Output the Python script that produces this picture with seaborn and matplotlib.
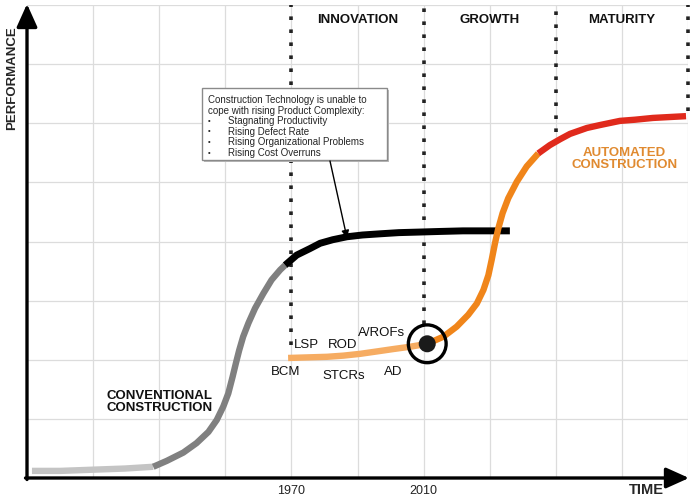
import matplotlib
matplotlib.use("Agg")
import matplotlib.pyplot as plt
import seaborn as sns
import pandas as pd
from matplotlib.patches import Rectangle

# ---------------- data ----------------
conv_early_year = [1891.5, 1900.0, 1909.7, 1919.6, 1928.2]
conv_early_perf = [0.12, 0.12, 0.14, 0.16, 0.19]

conv_rise_year = [1928.2, 1932.3, 1937.3, 1941.3, 1944.9, 1947.4, 1949.4, 1950.9,
                  1952.2, 1953.2, 1954.2, 1955.4, 1957.0, 1959.0, 1961.5, 1964.0,
                  1966.6, 1968.1]
conv_rise_perf = [0.19, 0.29, 0.43, 0.59, 0.78, 0.98, 1.21, 1.43,
                  1.71, 1.94, 2.16, 2.39, 2.62, 2.87, 3.12, 3.35,
                  3.52, 3.60]

conv_plateau_year = [1968.1, 1971.6, 1975.6, 1978.7, 1982.5, 1986.8, 1991.5, 1996.8,
                     2002.5, 2008.9, 2015.0, 2021.9, 2036.1]
conv_plateau_perf = [3.60, 3.77, 3.88, 3.97, 4.03, 4.08, 4.11, 4.13,
                     4.15, 4.16, 4.17, 4.18, 4.18]

auto_early_year = [1969.0, 1975.0, 1980.8, 1985.8, 1990.8, 1995.8, 2000.7, 2005.9, 2011.1]
auto_early_perf = [2.03, 2.04, 2.05, 2.07, 2.10, 2.14, 2.18, 2.22, 2.27]

auto_rise_year = [2011.1, 2016.0, 2020.0, 2023.5, 2026.1, 2028.1, 2029.6, 2030.6,
                  2031.6, 2032.6, 2033.9, 2035.6, 2038.2, 2041.2, 2044.7]
auto_rise_perf = [2.27, 2.39, 2.56, 2.76, 2.95, 3.18, 3.43, 3.69,
                  3.97, 4.22, 4.48, 4.73, 5.01, 5.27, 5.49]

auto_mature_year = [2044.7, 2048.2, 2051.3, 2054.3, 2059.4, 2063.4, 2069.4, 2074.0,
                    2079.4, 2089.4]
auto_mature_perf = [5.49, 5.63, 5.73, 5.82, 5.92, 5.97, 6.04, 6.06,
                    6.09, 6.12]

today_year = [2011.1]
today_perf = [2.27]

period_bounds = [1970, 2010, 2050, 2090]
period_bound_low = [2.25, 2.6, 5.85, 6.2]
period_names = ["INNOVATION", "GROWTH", "MATURITY"]
period_centers = [1990, 2030, 2070]

tech_labels = ["BCM", "LSP", "ROD", "A/ROFs", "STCRs", "AD"]
tech_year = [1968.3, 1974.4, 1985.5, 1997.3, 1985.8, 2000.7]
tech_perf = [1.79, 2.25, 2.25, 2.45, 1.73, 1.79]

xtick_years = [1910, 1930, 1950, 1970, 1990, 2010, 2030, 2050, 2070, 2090]
xtick_labels = ["", "", "", "1970", "", "2010", "", "", "", ""]

box_lines = ["Construction Technology is unable to",
             "cope with rising Product Complexity:"]
box_bullets = ["Stagnating Productivity", "Rising Defect Rate",
               "Rising Organizational Problems", "Rising Cost Overruns"]

# ---------------- figure ----------------
sns.set_style("white")
plt.rcParams["font.family"] = ["Liberation Sans", "DejaVu Sans"]

W, H = 690, 497
fig = plt.figure(figsize=(W / 100, H / 100), dpi=100)
ax = fig.add_axes([27 / W, 19 / H, 661 / W, 473 / H])
ax.set_xlim(1890, 2090)
ax.set_ylim(0, 8)
for s in ax.spines.values():
    s.set_visible(False)

ax.set_xticks(xtick_years)
ax.set_xticklabels(xtick_labels, fontsize=9, color="#222222")
ax.set_yticks(range(1, 9))
ax.set_yticklabels([])
ax.tick_params(length=0, pad=5)
ax.grid(True, color="#dcdcdc", linewidth=0.9)
ax.set_axisbelow(True)

def seg(xs, ys, color, lw=4.6, z=3):
    df = pd.DataFrame({"x": xs, "y": ys})
    sns.lineplot(data=df, x="x", y="y", sort=False, color=color, linewidth=lw,
                 ax=ax, zorder=z, solid_capstyle="butt", solid_joinstyle="round")

# dotted period boundaries
for x, lo in zip(period_bounds, period_bound_low):
    ax.plot([x, x], [lo, 8], color="#222222", linewidth=2.6,
            linestyle=(0, (1.0, 2.6)), dash_capstyle="butt", zorder=2,
            clip_on=False)

seg(conv_early_year, conv_early_perf, "#c4c4c4")
seg(conv_rise_year, conv_rise_perf, "#808080")
seg(conv_plateau_year, conv_plateau_perf, "#000000", lw=5.0, z=4)
seg(auto_early_year, auto_early_perf, "#f6ac62")
seg(auto_rise_year, auto_rise_perf, "#f0851a", z=5)
seg(auto_mature_year, auto_mature_perf, "#e02a1c", z=5)

sns.scatterplot(x=today_year, y=today_perf, s=740, facecolor="none",
                edgecolor="black", linewidth=2.4, ax=ax, zorder=6)
sns.scatterplot(x=today_year, y=today_perf, s=150, color="#1a1a1a",
                edgecolor="none", ax=ax, zorder=7)
ax.set_xlabel("")
ax.set_ylabel("")

# period names
for name, cx in zip(period_names, period_centers):
    ax.text(cx, 7.75, name, ha="center", va="center", fontsize=9.5,
            fontweight="bold", color="#111111")

# technology labels
for lab, x, y in zip(tech_labels, tech_year, tech_perf):
    ax.text(x, y, lab, ha="center", va="center", fontsize=9.5, color="#111111")

ax.text(1930.2, 1.29, "CONVENTIONAL\nCONSTRUCTION", ha="center", va="center",
        fontsize=9.5, fontweight="bold", color="#111111", linespacing=1.0)
ax.text(2070.8, 5.40, "AUTOMATED\nCONSTRUCTION", ha="center", va="center",
        fontsize=9.5, fontweight="bold", color="#e08a30", linespacing=1.0)

# annotation box
def px(xp, yp):
    return (1890 + (xp - 27) * 200 / 661.0, (478 - yp) / (473 / 8.0))

x0, y0 = px(202, 160)
x1, y1 = px(387, 88)
sx, sy = px(204, 162)
ax.add_patch(Rectangle((sx, sy), x1 - x0, y1 - y0, facecolor="#bbbbbb",
                       edgecolor="none", zorder=7))
ax.add_patch(Rectangle((x0, y0), x1 - x0, y1 - y0, facecolor="white",
                       edgecolor="#8a8a8a", linewidth=1.0, zorder=8))
line_y = [100, 110.6, 121.2, 131.8, 142.4, 153.0]
for i, t in enumerate(box_lines):
    xx, yy = px(208, line_y[i])
    ax.text(xx, yy, t, ha="left", va="center", fontsize=7.0, zorder=9)
for j, t in enumerate(box_bullets):
    xx, yy = px(208, line_y[2 + j])
    ax.text(xx, yy, "•", ha="left", va="center", fontsize=5.5, zorder=9)
    xx, yy = px(228, line_y[2 + j])
    ax.text(xx, yy, t, ha="left", va="center", fontsize=7.0, zorder=9)

a0 = px(330, 161)
a1 = px(347, 238)
ax.annotate("", xy=a1, xytext=a0,
            arrowprops=dict(arrowstyle="-|>", color="black", lw=1.0,
                            mutation_scale=11, shrinkA=0, shrinkB=0),
            zorder=9)

# axis arrows
ax.annotate("", xy=(27 / W, 1 - 4 / H), xytext=(27 / W, 1 - 479.5 / H),
            xycoords="figure fraction", textcoords="figure fraction",
            arrowprops=dict(arrowstyle="-|>,head_length=1.0,head_width=0.45",
                            color="black", lw=2.4, shrinkA=0, shrinkB=0,
                            mutation_scale=14))
ax.annotate("", xy=(689 / W, 1 - 478 / H), xytext=(25.5 / W, 1 - 478 / H),
            xycoords="figure fraction", textcoords="figure fraction",
            arrowprops=dict(arrowstyle="-|>,head_length=1.0,head_width=0.45",
                            color="black", lw=2.4, shrinkA=0, shrinkB=0,
                            mutation_scale=14))

fig.text(12 / W, 1 - 78 / H, "PERFORMANCE", rotation=90, ha="center",
         va="center", fontsize=9.5, fontweight="bold")
fig.text(646 / W, 1 - 490 / H, "TIME", ha="center", va="center",
         fontsize=10.5, fontweight="bold")

fig.savefig("out.png", dpi=100)
